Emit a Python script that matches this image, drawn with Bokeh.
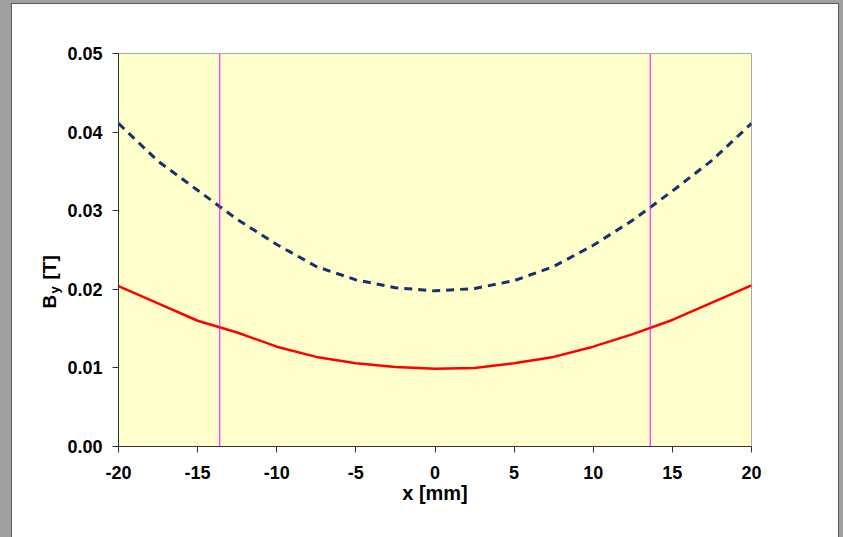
import math
from bokeh.plotting import figure
from bokeh.layouts import row, column
from bokeh.core.properties import value
from bokeh.models import Range1d, FixedTicker, PrintfTickFormatter, Span
from bokeh.embed import file_html
from bokeh.resources import INLINE

# ---- data ----
x_mm = [-20, -17.5, -15, -12.5, -10, -7.5, -5, -2.5, 0, 2.5, 5, 7.5, 10, 12.5, 15, 17.5, 20]
by_red = [0.0204, 0.0182, 0.0160, 0.0145, 0.0127, 0.0114, 0.0106, 0.0101, 0.0099,
          0.0100, 0.0106, 0.0114, 0.0127, 0.0143, 0.0161, 0.0183, 0.0205]
by_blue = [0.0411, 0.0363, 0.0326, 0.0289, 0.0257, 0.0229, 0.0212, 0.0202, 0.0198,
           0.0201, 0.0211, 0.0229, 0.0256, 0.0288, 0.0325, 0.0364, 0.0411]
vlines_x = [-13.6, 13.6]
x_ticks = [-20, -15, -10, -5, 0, 5, 10, 15, 20]
y_ticks = [0.0, 0.01, 0.02, 0.03, 0.04, 0.05]
y_label_parts = ["B", "y", "[T]"]

FONT = "Liberation Sans"
LAB_W = 52
TOP, BOTTOM = 49, 91

# ---- main chart ----
p = figure(width=826 - LAB_W, height=533, output_backend="svg", toolbar_location=None,
           x_range=Range1d(-20, 20), y_range=Range1d(0, 0.05),
           min_border_left=106 - LAB_W, min_border_right=87,
           min_border_top=TOP, min_border_bottom=BOTTOM)

p.background_fill_color = "#FFFFCC"
p.border_fill_color = "white"
p.outline_line_color = "#A8A8A8"
p.outline_line_width = 1
p.grid.visible = False

for ax in (p.xaxis[0], p.yaxis[0]):
    ax.axis_line_color = "#303030"
    ax.axis_line_width = 1
    ax.major_tick_line_color = "#303030"
    ax.major_tick_out = 6
    ax.major_tick_in = 0
    ax.minor_tick_line_color = None
    ax.major_label_text_font = FONT
    ax.major_label_text_font_style = "bold"
    ax.major_label_text_font_size = "18px"
    ax.major_label_text_color = "black"

p.xaxis.ticker = FixedTicker(ticks=x_ticks)
p.xaxis.formatter = PrintfTickFormatter(format="%d")
p.yaxis.ticker = FixedTicker(ticks=y_ticks)
p.yaxis.formatter = PrintfTickFormatter(format="%.2f")
p.yaxis.major_label_standoff = 10
p.xaxis.major_label_standoff = 13

p.xaxis.axis_label = "x [mm]"
p.xaxis.axis_label_text_font = FONT
p.xaxis.axis_label_text_font_style = "bold"
p.xaxis.axis_label_text_font_size = "20px"
p.xaxis.axis_label_text_color = "black"
p.xaxis.axis_label_standoff = 0

for xv in vlines_x:
    p.add_layout(Span(location=xv, dimension="height", line_color="#FF00FF", line_width=1))

p.line(x_mm, by_blue, line_color="#15326A", line_width=3, line_dash="8 6")
p.line(x_mm, by_red, line_color="#FF0000", line_width=2.5)

# ---- narrow strip holding the rotated y-axis title "B_y [T]" ----
# its frame is aligned with the main frame; units = pixels measured up from page bottom
lab = figure(width=LAB_W, height=533, output_backend="svg", toolbar_location=None,
             x_range=Range1d(0, LAB_W), y_range=Range1d(BOTTOM, 533 - TOP),
             min_border_left=0, min_border_right=0,
             min_border_top=TOP, min_border_bottom=BOTTOM)
lab.axis.visible = False
lab.grid.visible = False
lab.outline_line_color = None
lab.background_fill_color = "white"
lab.border_fill_color = "white"

txt = dict(angle=math.pi / 2, text_font=value(FONT), text_font_style="bold",
           text_color="black", text_align="left", text_baseline="alphabetic")
lab.text(x=[37], y=[229], text=[y_label_parts[0]], text_font_size="19px", **txt)
lab.text(x=[42], y=[244], text=[y_label_parts[1]], text_font_size="13px", **txt)
lab.text(x=[37], y=[258], text=[y_label_parts[2]], text_font_size="19px", **txt)

inner = row(lab, p, spacing=0,
            styles={"background-color": "white", "box-shadow": "0 0 0 1px #5A5A5A"})
layout = column(inner, styles={"background-color": "#A0A0A0", "padding": "4px 5px 0px 12px"})

open("out.html", "w").write(file_html(layout, INLINE))
